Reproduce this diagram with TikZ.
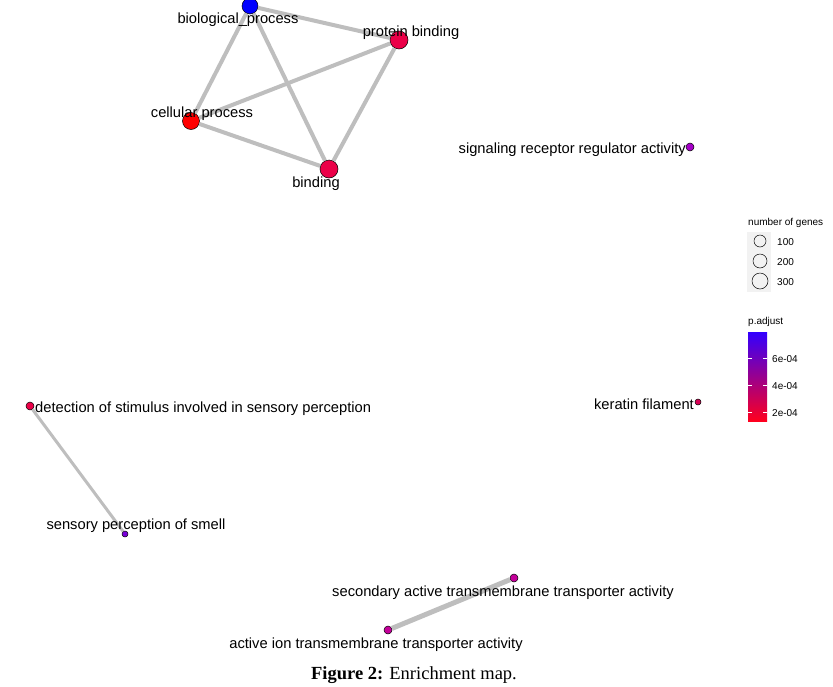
\documentclass[tikz,border=0pt]{standalone}
\usepackage{fontspec}
\setmainfont{Liberation Sans}
\newfontfamily\capfont{Liberation Serif}
\usepackage{tikz}
\usetikzlibrary{positioning}

\definecolor{edgegray}{RGB}{190,190,190}
\definecolor{padjlow}{RGB}{255,0,30}
\definecolor{padjmid}{RGB}{195,0,150}
\definecolor{padjhigh}{RGB}{50,0,255}
\definecolor{termred}{RGB}{255,0,0}
\definecolor{termcrimson}{RGB}{235,0,72}
\definecolor{termrose}{RGB}{215,0,85}
\definecolor{termmagenta}{RGB}{196,0,154}
\definecolor{termpurple}{RGB}{165,0,200}
\definecolor{termviolet}{RGB}{120,0,216}
\definecolor{keyfill}{RGB}{242,242,242}

\tikzset{
    term/.style={circle, draw=black, line width=0.5pt, inner sep=0pt},
    lbl/.style={font=\fontsize{14.7}{17}\selectfont, inner sep=0pt},
    keytext/.style={font=\fontsize{10}{12}\selectfont, inner sep=0pt},
    simedge/.style={draw=edgegray, line width=4pt},
}

\begin{document}
\begin{tikzpicture}[x=1pt, y=-1pt]
    \useasboundingbox (0,0) rectangle (833,686);

    % terms
    \node [term, fill=blue, minimum size=16pt] (bp) at (250,6) {};
    \node [term, fill=termcrimson, minimum size=18pt] (pb) at (399,40) {};
    \node [term, fill=termred, minimum size=17pt] (cp) at (191,121) {};
    \node [term, fill=termcrimson, minimum size=18pt] (bind) at (329,169) {};
    \node [term, fill=termpurple, minimum size=8pt] (sig) at (690,147) {};
    \node [term, fill=termrose, minimum size=6pt] (ker) at (698,402) {};
    \node [term, fill=termcrimson, minimum size=8pt] (det) at (30,406) {};
    \node [term, fill=termviolet, minimum size=6pt] (smell) at (125,534) {};
    \node [term, fill=termmagenta, minimum size=8pt] (sec) at (514,578) {};
    \node [term, fill=termmagenta, minimum size=8pt] (ion) at (388,630) {};

    % similarity edges
    \path [simedge] (bp) -- (pb);
    \path [simedge] (bp) -- (cp);
    \path [simedge] (bp) -- (bind);
    \path [simedge] (pb) -- (cp);
    \path [simedge] (pb) -- (bind);
    \path [simedge] (cp) -- (bind);
    \path [simedge, line width=3pt] (det) -- (smell);
    \path [simedge, line width=5pt] (sec) -- (ion);

    % labels
    \node [lbl] (bp-l) at (238,19.5) {biological\_process};
    \node [lbl] (pb-l) at (411,32.5) {protein binding};
    \node [lbl] (cp-l) at (202,113.5) {cellular process};
    \node [lbl] (bind-l) at (316,183.5) {binding};
    \node [lbl, anchor=east] (sig-l) at (686,149.5) {signaling receptor regulator activity};
    \node [lbl, anchor=east] (ker-l) at (694,404.5) {keratin filament};
    \node [lbl, anchor=west] (det-l) at (35,408.5) {detection of stimulus involved in sensory perception};
    \node [lbl] (smell-l) at (136,525.5) {sensory perception of smell};
    \node [lbl] (sec-l) at (503,592.5) {secondary active transmembrane transporter activity};
    \node [lbl] (ion-l) at (376,644.5) {active ion transmembrane transporter activity};

    % legend: number of genes
    \node [keytext, anchor=west] (size-t) at (748,223) {number of genes};
    \fill [keyfill] (747,232) rectangle (771,292);
    \foreach \cy/\r/\n in {241/6/100, 261/7/200, 281/8/300} {
        \draw [line width=0.5pt] (760,\cy) circle (\r);
        \node [keytext, anchor=west] at (777,\cy+1) {\n};
    }

    % legend: p.adjust
    \node [keytext, anchor=west] (padj-t) at (748,322) {p.adjust};
    \shade [top color=padjhigh, middle color=padjmid, bottom color=padjlow] (748,332) rectangle (767,421);
    \foreach \ty/\v in {358/6e-04, 385/4e-04, 412/2e-04} {
        \draw [white, line width=0.6pt] (748,\ty) -- (752,\ty);
        \draw [white, line width=0.6pt] (763,\ty) -- (767,\ty);
        \node [keytext, anchor=west] at (772,\ty+1) {\v};
    }

    % caption
    \node [font=\capfont\fontsize{18.5}{21}\selectfont] (cap) at (414,675) {\textbf{Figure 2:} Enrichment map.};
\end{tikzpicture}
\end{document}
